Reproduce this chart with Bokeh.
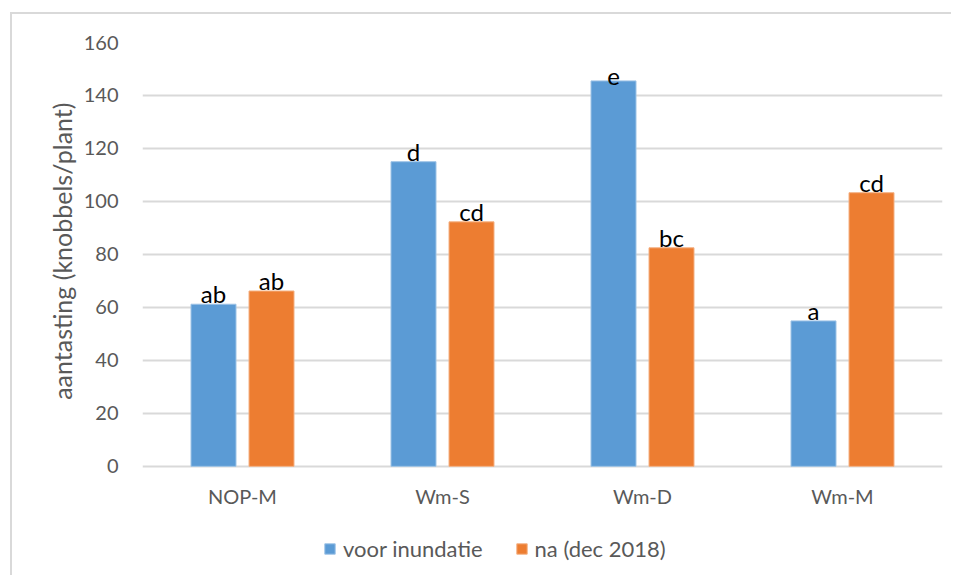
from bokeh.plotting import figure
from bokeh.models import ColumnDataSource, FactorRange, Range1d, Legend, LegendItem, FixedTicker, Title
from bokeh.transform import dodge
from bokeh.core.properties import value
from bokeh.embed import file_html
from bokeh.resources import INLINE

categories = ["NOP-M", "Wm-S", "Wm-D", "Wm-M"]
voor = [61.2, 115.0, 145.5, 54.9]
na = [66.2, 92.3, 82.5, 103.3]
voor_letters = ["ab", "d", "e", "a"]
na_letters = ["ab", "cd", "bc", "cd"]
series_names = ["voor inundatie", "na (dec 2018)"]
y_label = "aantasting (knobbels/plant)"
y_ticks = [0, 20, 40, 60, 80, 100, 120, 140, 160]

BLUE = "#5B9BD5"
ORANGE = "#ED7D31"
GRAY_TXT = "#595959"
GRID = "#D9D9D9"
FONT = "Lato"

src = ColumnDataSource(dict(cat=categories, voor=voor, na=na,
                            vl=voor_letters, nl=na_letters))

# frame: 160 at top, 0 424 px lower; extended below 0 so legend fits inside
p = figure(x_range=FactorRange(*categories, range_padding=0),
           y_range=Range1d(-41.2, 160),
           width=951, height=575, output_backend="svg", toolbar_location=None,
           min_border_left=142, min_border_right=9, min_border_top=42,
           min_border_bottom=0)
p.border_fill_color = None
p.background_fill_color = None
p.styles = {"background":
            "linear-gradient(#D9D9D9,#D9D9D9) 10px 12px / 2px 100% no-repeat, "
            "linear-gradient(#D9D9D9,#D9D9D9) 10px 12px / 100% 2px no-repeat, #FFFFFF"}
p.outline_line_color = None

w = 0.225
off = 0.145
rb = p.vbar(x=dodge("cat", -off, range=p.x_range), top="voor", width=w, source=src,
            fill_color=BLUE, line_color="#9DC3E6", line_width=1)
ro = p.vbar(x=dodge("cat", off, range=p.x_range), top="na", width=w, source=src,
            fill_color=ORANGE, line_color="#F4B183", line_width=1)

for col, dx in (("vl", -off), ("nl", off)):
    ycol = "voor" if col == "vl" else "na"
    p.text(x=dodge("cat", dx, range=p.x_range), y=ycol, text=col, source=src,
           text_align="center", text_baseline="bottom", y_offset=4,
           text_font=value(FONT), text_font_size=value("24px"),
           text_color="#000000")

p.yaxis.ticker = FixedTicker(ticks=y_ticks)
p.ygrid.ticker = FixedTicker(ticks=y_ticks)
p.ygrid.grid_line_color = GRID
p.ygrid.grid_line_width = 2
p.xgrid.grid_line_color = None
p.xaxis.fixed_location = 0

for ax in (p.xaxis, p.yaxis):
    ax.axis_line_color = None
    ax.major_tick_line_color = None
    ax.minor_tick_line_color = None
    ax.major_label_text_font = FONT
    ax.major_label_text_font_size = "20px"
    ax.major_label_text_color = GRAY_TXT

p.yaxis.major_label_standoff = 18
p.xaxis.major_label_standoff = 12

ytitle = Title(text=y_label, align="right", offset=60, standoff=8,
               text_font=FONT, text_font_size="25px", text_font_style="normal",
               text_color=GRAY_TXT)
p.add_layout(ytitle, "left")

legend = Legend(items=[LegendItem(label=series_names[0], renderers=[rb]),
                       LegendItem(label=series_names[1], renderers=[ro])],
                orientation="horizontal", location=(181, 13),
                padding=0, margin=0, spacing=32, label_standoff=7,
                glyph_width=13, glyph_height=13,
                label_text_font=FONT, label_text_font_size="22px",
                label_text_color=GRAY_TXT,
                border_line_color=None, background_fill_alpha=0)
p.add_layout(legend, "center")

open("out.html", "w").write(file_html(p, INLINE))
